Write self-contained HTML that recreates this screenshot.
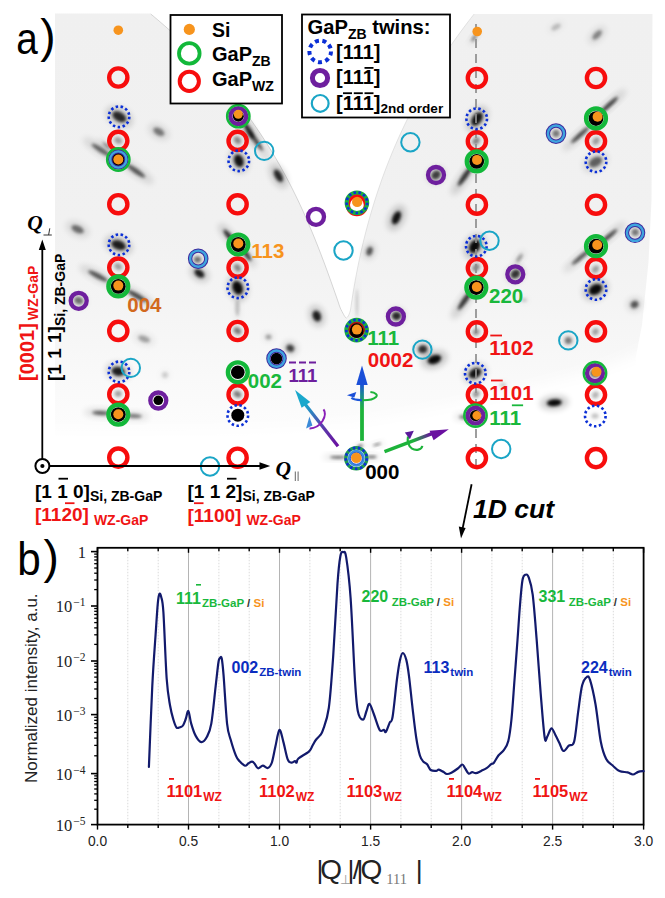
<!DOCTYPE html><html><head><meta charset="utf-8"><title>fig</title><style>html,body{margin:0;padding:0;background:#fff;}body{width:665px;height:898px;position:relative;overflow:hidden;font-family:"Liberation Sans", sans-serif;}</style></head><body><svg width="665" height="898" viewBox="0 0 665 898" style="position:absolute;left:0;top:0">
<defs><filter id="bl" x="-50%" y="-50%" width="200%" height="200%"><feGaussianBlur stdDeviation="1.5"/></filter><filter id="bl0" x="-50%" y="-50%" width="200%" height="200%"><feGaussianBlur stdDeviation="0.7"/></filter><filter id="bl2" x="-50%" y="-50%" width="200%" height="200%"><feGaussianBlur stdDeviation="3"/></filter><filter id="edge" x="-5%" y="-5%" width="110%" height="110%"><feGaussianBlur stdDeviation="0.6"/></filter><filter id="soft" filterUnits="userSpaceOnUse" x="-50" y="-50" width="800" height="600"><feGaussianBlur stdDeviation="7"/></filter><linearGradient id="gv" x1="0" y1="0" x2="0" y2="1"><stop offset="0" stop-color="#22b33a"/><stop offset="1" stop-color="#1a4fd6"/></linearGradient><linearGradient id="gv2" gradientUnits="userSpaceOnUse" x1="0" y1="441" x2="0" y2="380"><stop offset="0" stop-color="#16b03c"/><stop offset="0.55" stop-color="#16a050"/><stop offset="1" stop-color="#1450d8"/></linearGradient><linearGradient id="gl" gradientUnits="userSpaceOnUse" x1="338" y1="446" x2="296" y2="391"><stop offset="0" stop-color="#6a1fa0"/><stop offset="0.5" stop-color="#6a2aa8"/><stop offset="1" stop-color="#22a8cc"/></linearGradient><linearGradient id="gr" gradientUnits="userSpaceOnUse" x1="384" y1="451" x2="448" y2="430"><stop offset="0" stop-color="#16b03c"/><stop offset="0.45" stop-color="#16b03c"/><stop offset="1" stop-color="#6a1fa0"/></linearGradient></defs>
<linearGradient id="mapg" gradientUnits="userSpaceOnUse" x1="0" y1="14" x2="0" y2="440"><stop offset="0" stop-color="#f0f0f0"/><stop offset="0.5" stop-color="#f1f1f1"/><stop offset="0.68" stop-color="#f4f4f4"/><stop offset="0.82" stop-color="#f8f8f8"/><stop offset="1" stop-color="#fdfdfd"/></linearGradient>
<mask id="mbot" maskUnits="userSpaceOnUse" x="0" y="0" width="665" height="520"><g filter="url(#soft)"><path d="M0,-20 L700,-20 L700,345 L640,352 C610,368 570,378 520,390 C470,402 420,412 360,422 C250,432 150,432 0,430 Z" fill="#fff"/></g></mask>
<g mask="url(#mbot)"><g filter="url(#edge)"><path d="M55,13.5 L150.5,13.5 L150.74,14 C151.94,15.00 155.56,18.00 157.91,20 C160.26,22.00 162.58,24.00 164.87,26 C167.16,28.00 169.41,30.00 171.64,32 C173.86,34.00 176.06,36.00 178.22,38 C180.38,40.00 182.51,42.00 184.61,44 C186.71,46.00 188.78,48.00 190.82,50 C192.86,52.00 194.86,54.00 196.84,56 C198.82,58.00 200.77,60.00 202.69,62 C204.61,64.00 206.50,66.00 208.37,68 C210.24,70.00 212.07,72.00 213.88,74 C215.69,76.00 217.47,78.00 219.22,80 C220.97,82.00 222.71,84.00 224.41,86 C226.11,88.00 227.79,90.00 229.44,92 C231.09,94.00 232.71,96.00 234.31,98 C235.91,100.00 237.49,102.00 239.04,104 C240.59,106.00 242.12,108.00 243.63,110 C245.13,112.00 246.61,114.00 248.07,116 C249.53,118.00 250.97,120.00 252.38,122 C253.79,124.00 255.19,126.00 256.56,128 C257.93,130.00 259.27,132.00 260.6,134 C261.93,136.00 263.24,138.00 264.53,140 C265.82,142.00 267.08,144.00 268.33,146 C269.58,148.00 270.81,150.00 272.02,152 C273.23,154.00 274.43,156.00 275.6,158 C276.77,160.00 277.92,162.00 279.06,164 C280.20,166.00 281.32,168.00 282.43,170 C283.54,172.00 284.62,174.00 285.69,176 C286.76,178.00 287.82,180.00 288.86,182 C289.90,184.00 290.93,186.00 291.94,188 C292.95,190.00 293.94,192.00 294.92,194 C295.90,196.00 296.88,198.00 297.83,200 C298.78,202.00 299.72,204.00 300.65,206 C301.58,208.00 302.50,210.00 303.4,212 C304.30,214.00 305.19,216.00 306.07,218 C306.95,220.00 307.82,222.00 308.68,224 C309.54,226.00 310.38,228.00 311.22,230 C312.06,232.00 312.89,234.00 313.71,236 C314.53,238.00 315.33,240.00 316.13,242 C316.93,244.00 317.73,246.00 318.51,248 C319.29,250.00 320.07,252.00 320.84,254 C321.61,256.00 322.37,258.00 323.12,260 C323.87,262.00 324.62,264.00 325.36,266 C326.10,268.00 326.84,270.00 327.57,272 C328.30,274.00 329.02,276.00 329.74,278 C330.46,280.00 331.18,282.00 331.89,284 C332.60,286.00 333.31,288.00 334.01,290 C334.71,292.00 335.41,294.00 336.11,296 C336.81,298.00 337.51,300.00 338.2,302 C338.89,304.00 339.37,305.92 340.27,308 C341.17,310.08 342.78,313.00 343.6,314.5 C344.42,316.00 344.77,316.38 345.2,317 C345.63,317.62 346.03,318.00 346.2,318.2 C346.43,318.00 347.13,317.62 347.6,317 C348.07,316.38 348.52,315.67 349,314.5 C349.48,313.33 350.09,311.75 350.48,310 C350.87,308.25 351.05,306.00 351.35,304 C351.65,302.00 351.95,300.00 352.27,298 C352.58,296.00 352.91,294.00 353.24,292 C353.57,290.00 353.91,288.00 354.26,286 C354.61,284.00 354.97,282.00 355.33,280 C355.69,278.00 356.06,276.00 356.44,274 C356.82,272.00 357.21,270.00 357.61,268 C358.01,266.00 358.42,264.00 358.84,262 C359.26,260.00 359.69,258.00 360.12,256 C360.56,254.00 361.00,252.00 361.45,250 C361.90,248.00 362.36,246.00 362.84,244 C363.31,242.00 363.81,240.00 364.3,238 C364.80,236.00 365.30,234.00 365.81,232 C366.32,230.00 366.85,228.00 367.38,226 C367.91,224.00 368.46,222.00 369.02,220 C369.58,218.00 370.15,216.00 370.73,214 C371.31,212.00 371.90,210.00 372.5,208 C373.10,206.00 373.72,204.00 374.34,202 C374.96,200.00 375.59,198.00 376.24,196 C376.89,194.00 377.55,192.00 378.22,190 C378.89,188.00 379.57,186.00 380.27,184 C380.96,182.00 381.67,180.00 382.39,178 C383.11,176.00 383.84,174.00 384.59,172 C385.34,170.00 386.10,168.00 386.87,166 C387.64,164.00 388.42,162.00 389.22,160 C390.02,158.00 390.83,156.00 391.65,154 C392.47,152.00 393.31,150.00 394.16,148 C395.01,146.00 395.87,144.00 396.75,142 C397.63,140.00 398.52,138.00 399.43,136 C400.34,134.00 401.26,132.00 402.19,130 C403.12,128.00 404.07,126.00 405.03,124 C405.99,122.00 406.98,120.00 407.97,118 C408.96,116.00 409.97,114.00 410.99,112 C412.01,110.00 413.05,108.00 414.1,106 C415.15,104.00 416.23,102.00 417.31,100 C418.39,98.00 419.50,96.00 420.61,94 C421.73,92.00 422.86,90.00 424.0,88 C425.14,86.00 426.30,84.00 427.48,82 C428.66,80.00 429.86,78.00 431.07,76 C432.28,74.00 433.50,72.00 434.75,70 C436.00,68.00 437.26,66.00 438.54,64 C439.82,62.00 441.11,60.00 442.42,58 C443.73,56.00 445.06,54.00 446.41,52 C447.76,50.00 449.12,48.00 450.5,46 C451.88,44.00 453.28,42.00 454.7,40 C456.12,38.00 457.55,36.00 459.0,34 C460.45,32.00 461.92,30.00 463.41,28 C464.90,26.00 466.41,24.00 467.94,22 C469.47,20.00 471.54,17.33 472.57,16 C473.60,14.67 473.85,14.33 474.1,14 L652.5,14 L651.5,200 L648.5,262 L642,325 L636,356 L630,470 L55,470 Z" fill="url(#mapg)"/></g></g>
<path d="M150.74,14 C151.94,15.00 155.56,18.00 157.91,20 C160.26,22.00 162.58,24.00 164.87,26 C167.16,28.00 169.41,30.00 171.64,32 C173.86,34.00 176.06,36.00 178.22,38 C180.38,40.00 182.51,42.00 184.61,44 C186.71,46.00 188.78,48.00 190.82,50 C192.86,52.00 194.86,54.00 196.84,56 C198.82,58.00 200.77,60.00 202.69,62 C204.61,64.00 206.50,66.00 208.37,68 C210.24,70.00 212.07,72.00 213.88,74 C215.69,76.00 217.47,78.00 219.22,80 C220.97,82.00 222.71,84.00 224.41,86 C226.11,88.00 227.79,90.00 229.44,92 C231.09,94.00 232.71,96.00 234.31,98 C235.91,100.00 237.49,102.00 239.04,104 C240.59,106.00 242.12,108.00 243.63,110 C245.13,112.00 246.61,114.00 248.07,116 C249.53,118.00 250.97,120.00 252.38,122 C253.79,124.00 255.19,126.00 256.56,128 C257.93,130.00 259.27,132.00 260.6,134 C261.93,136.00 263.24,138.00 264.53,140 C265.82,142.00 267.08,144.00 268.33,146 C269.58,148.00 270.81,150.00 272.02,152 C273.23,154.00 274.43,156.00 275.6,158 C276.77,160.00 277.92,162.00 279.06,164 C280.20,166.00 281.32,168.00 282.43,170 C283.54,172.00 284.62,174.00 285.69,176 C286.76,178.00 287.82,180.00 288.86,182 C289.90,184.00 290.93,186.00 291.94,188 C292.95,190.00 293.94,192.00 294.92,194 C295.90,196.00 296.88,198.00 297.83,200 C298.78,202.00 299.72,204.00 300.65,206 C301.58,208.00 302.50,210.00 303.4,212 C304.30,214.00 305.19,216.00 306.07,218 C306.95,220.00 307.82,222.00 308.68,224 C309.54,226.00 310.38,228.00 311.22,230 C312.06,232.00 312.89,234.00 313.71,236 C314.53,238.00 315.33,240.00 316.13,242 C316.93,244.00 317.73,246.00 318.51,248 C319.29,250.00 320.07,252.00 320.84,254 C321.61,256.00 322.37,258.00 323.12,260 C323.87,262.00 324.62,264.00 325.36,266 C326.10,268.00 326.84,270.00 327.57,272 C328.30,274.00 329.02,276.00 329.74,278 C330.46,280.00 331.18,282.00 331.89,284 C332.60,286.00 333.31,288.00 334.01,290 C334.71,292.00 335.41,294.00 336.11,296 C336.81,298.00 337.51,300.00 338.2,302 C338.89,304.00 339.37,305.92 340.27,308 C341.17,310.08 342.78,313.00 343.6,314.5 C344.42,316.00 344.77,316.38 345.2,317 C345.63,317.62 346.03,318.00 346.2,318.2" fill="none" stroke="#c6c6c6" stroke-width="0.7"/><path d="M346.2,318.2 C346.43,318.00 347.13,317.62 347.6,317 C348.07,316.38 348.52,315.67 349,314.5 C349.48,313.33 350.09,311.75 350.48,310 C350.87,308.25 351.05,306.00 351.35,304 C351.65,302.00 351.95,300.00 352.27,298 C352.58,296.00 352.91,294.00 353.24,292 C353.57,290.00 353.91,288.00 354.26,286 C354.61,284.00 354.97,282.00 355.33,280 C355.69,278.00 356.06,276.00 356.44,274 C356.82,272.00 357.21,270.00 357.61,268 C358.01,266.00 358.42,264.00 358.84,262 C359.26,260.00 359.69,258.00 360.12,256 C360.56,254.00 361.00,252.00 361.45,250 C361.90,248.00 362.36,246.00 362.84,244 C363.31,242.00 363.81,240.00 364.3,238 C364.80,236.00 365.30,234.00 365.81,232 C366.32,230.00 366.85,228.00 367.38,226 C367.91,224.00 368.46,222.00 369.02,220 C369.58,218.00 370.15,216.00 370.73,214 C371.31,212.00 371.90,210.00 372.5,208 C373.10,206.00 373.72,204.00 374.34,202 C374.96,200.00 375.59,198.00 376.24,196 C376.89,194.00 377.55,192.00 378.22,190 C378.89,188.00 379.57,186.00 380.27,184 C380.96,182.00 381.67,180.00 382.39,178 C383.11,176.00 383.84,174.00 384.59,172 C385.34,170.00 386.10,168.00 386.87,166 C387.64,164.00 388.42,162.00 389.22,160 C390.02,158.00 390.83,156.00 391.65,154 C392.47,152.00 393.31,150.00 394.16,148 C395.01,146.00 395.87,144.00 396.75,142 C397.63,140.00 398.52,138.00 399.43,136 C400.34,134.00 401.26,132.00 402.19,130 C403.12,128.00 404.07,126.00 405.03,124 C405.99,122.00 406.98,120.00 407.97,118 C408.96,116.00 409.97,114.00 410.99,112 C412.01,110.00 413.05,108.00 414.1,106 C415.15,104.00 416.23,102.00 417.31,100 C418.39,98.00 419.50,96.00 420.61,94 C421.73,92.00 422.86,90.00 424.0,88 C425.14,86.00 426.30,84.00 427.48,82 C428.66,80.00 429.86,78.00 431.07,76 C432.28,74.00 433.50,72.00 434.75,70 C436.00,68.00 437.26,66.00 438.54,64 C439.82,62.00 441.11,60.00 442.42,58 C443.73,56.00 445.06,54.00 446.41,52 C447.76,50.00 449.12,48.00 450.5,46 C451.88,44.00 453.28,42.00 454.7,40 C456.12,38.00 457.55,36.00 459.0,34 C460.45,32.00 461.92,30.00 463.41,28 C464.90,26.00 466.41,24.00 467.94,22 C469.47,20.00 471.54,17.33 472.57,16 C473.60,14.67 473.85,14.33 474.1,14" fill="none" stroke="#d2d2d2" stroke-width="0.6"/>
<ellipse cx="119.3" cy="116.8" rx="14.2" ry="9.0" transform="rotate(30 119.3 116.8)" fill="#000" opacity="0.18" filter="url(#bl2)"/>
<ellipse cx="119.3" cy="116.8" rx="7.5" ry="4.5" transform="rotate(30 119.3 116.8)" fill="#000" opacity="0.8" filter="url(#bl)"/>
<ellipse cx="118.2" cy="140.5" rx="7.6" ry="6.0" transform="rotate(30 118.2 140.5)" fill="#000" opacity="0.07" filter="url(#bl2)"/>
<ellipse cx="118.2" cy="140.5" rx="4" ry="3" transform="rotate(30 118.2 140.5)" fill="#000" opacity="0.3" filter="url(#bl)"/>
<ellipse cx="158.8" cy="131.8" rx="11.4" ry="7.0" transform="rotate(30 158.8 131.8)" fill="#000" opacity="0.10" filter="url(#bl2)"/>
<ellipse cx="158.8" cy="131.8" rx="6" ry="3.5" transform="rotate(30 158.8 131.8)" fill="#000" opacity="0.45" filter="url(#bl)"/>
<ellipse cx="101" cy="150" rx="20.9" ry="5.0" transform="rotate(33 101 150)" fill="#000" opacity="0.12" filter="url(#bl2)"/>
<ellipse cx="101" cy="150" rx="11" ry="2.5" transform="rotate(33 101 150)" fill="#000" opacity="0.55" filter="url(#bl)"/>
<ellipse cx="136" cy="171" rx="20.9" ry="5.0" transform="rotate(35 136 171)" fill="#000" opacity="0.13" filter="url(#bl2)"/>
<ellipse cx="136" cy="171" rx="11" ry="2.5" transform="rotate(35 136 171)" fill="#000" opacity="0.6" filter="url(#bl)"/>
<ellipse cx="107" cy="146" rx="11.4" ry="2.4" transform="rotate(40 107 146)" fill="#000" opacity="0.11" filter="url(#bl2)"/>
<ellipse cx="107" cy="146" rx="6" ry="1.2" transform="rotate(40 107 146)" fill="#000" opacity="0.5" filter="url(#bl)"/>
<ellipse cx="77.6" cy="229.3" rx="12.3" ry="7.0" transform="rotate(25 77.6 229.3)" fill="#000" opacity="0.11" filter="url(#bl2)"/>
<ellipse cx="77.6" cy="229.3" rx="6.5" ry="3.5" transform="rotate(25 77.6 229.3)" fill="#000" opacity="0.5" filter="url(#bl)"/>
<ellipse cx="118.6" cy="245.1" rx="14.2" ry="9.0" transform="rotate(20 118.6 245.1)" fill="#000" opacity="0.19" filter="url(#bl2)"/>
<ellipse cx="118.6" cy="245.1" rx="7.5" ry="4.5" transform="rotate(20 118.6 245.1)" fill="#000" opacity="0.85" filter="url(#bl)"/>
<ellipse cx="118.2" cy="266.5" rx="7.6" ry="6.0" transform="rotate(30 118.2 266.5)" fill="#000" opacity="0.07" filter="url(#bl2)"/>
<ellipse cx="118.2" cy="266.5" rx="4" ry="3" transform="rotate(30 118.2 266.5)" fill="#000" opacity="0.3" filter="url(#bl)"/>
<ellipse cx="98" cy="276" rx="20.9" ry="5.0" transform="rotate(28 98 276)" fill="#000" opacity="0.13" filter="url(#bl2)"/>
<ellipse cx="98" cy="276" rx="11" ry="2.5" transform="rotate(28 98 276)" fill="#000" opacity="0.6" filter="url(#bl)"/>
<ellipse cx="137" cy="296" rx="20.9" ry="5.0" transform="rotate(30 137 296)" fill="#000" opacity="0.14" filter="url(#bl2)"/>
<ellipse cx="137" cy="296" rx="11" ry="2.5" transform="rotate(30 137 296)" fill="#000" opacity="0.65" filter="url(#bl)"/>
<ellipse cx="78.7" cy="300.6" rx="8.5" ry="7.0" transform="rotate(20 78.7 300.6)" fill="#000" opacity="0.11" filter="url(#bl2)"/>
<ellipse cx="78.7" cy="300.6" rx="4.5" ry="3.5" transform="rotate(20 78.7 300.6)" fill="#000" opacity="0.5" filter="url(#bl)"/>
<ellipse cx="199.4" cy="273.5" rx="10.4" ry="7.0" transform="rotate(35 199.4 273.5)" fill="#000" opacity="0.19" filter="url(#bl2)"/>
<ellipse cx="199.4" cy="273.5" rx="5.5" ry="3.5" transform="rotate(35 199.4 273.5)" fill="#000" opacity="0.85" filter="url(#bl)"/>
<ellipse cx="197.5" cy="259.5" rx="6.6" ry="6.0" transform="rotate(0 197.5 259.5)" fill="#000" opacity="0.11" filter="url(#bl2)"/>
<ellipse cx="197.5" cy="259.5" rx="3.5" ry="3" transform="rotate(0 197.5 259.5)" fill="#000" opacity="0.5" filter="url(#bl)"/>
<ellipse cx="144.1" cy="338.9" rx="11.4" ry="6.0" transform="rotate(20 144.1 338.9)" fill="#000" opacity="0.07" filter="url(#bl2)"/>
<ellipse cx="144.1" cy="338.9" rx="6" ry="3" transform="rotate(20 144.1 338.9)" fill="#000" opacity="0.3" filter="url(#bl)"/>
<ellipse cx="118.2" cy="371.4" rx="12.3" ry="9.0" transform="rotate(10 118.2 371.4)" fill="#000" opacity="0.19" filter="url(#bl2)"/>
<ellipse cx="118.2" cy="371.4" rx="6.5" ry="4.5" transform="rotate(10 118.2 371.4)" fill="#000" opacity="0.85" filter="url(#bl)"/>
<ellipse cx="118.2" cy="393.8" rx="6.6" ry="6.0" transform="rotate(0 118.2 393.8)" fill="#000" opacity="0.07" filter="url(#bl2)"/>
<ellipse cx="118.2" cy="393.8" rx="3.5" ry="3" transform="rotate(0 118.2 393.8)" fill="#000" opacity="0.3" filter="url(#bl)"/>
<ellipse cx="101" cy="413" rx="17.1" ry="4.4" transform="rotate(3 101 413)" fill="#000" opacity="0.12" filter="url(#bl2)"/>
<ellipse cx="101" cy="413" rx="9" ry="2.2" transform="rotate(3 101 413)" fill="#000" opacity="0.55" filter="url(#bl)"/>
<ellipse cx="134" cy="416" rx="15.2" ry="4.4" transform="rotate(3 134 416)" fill="#000" opacity="0.10" filter="url(#bl2)"/>
<ellipse cx="134" cy="416" rx="8" ry="2.2" transform="rotate(3 134 416)" fill="#000" opacity="0.45" filter="url(#bl)"/>
<ellipse cx="165" cy="375" rx="5.7" ry="6.0" transform="rotate(0 165 375)" fill="#000" opacity="0.03" filter="url(#bl2)"/>
<ellipse cx="165" cy="375" rx="3" ry="3" transform="rotate(0 165 375)" fill="#000" opacity="0.15" filter="url(#bl)"/>
<ellipse cx="249" cy="131" rx="17.1" ry="4.8" transform="rotate(60 249 131)" fill="#000" opacity="0.18" filter="url(#bl2)"/>
<ellipse cx="249" cy="131" rx="9" ry="2.4" transform="rotate(60 249 131)" fill="#000" opacity="0.8" filter="url(#bl)"/>
<ellipse cx="237.5" cy="140.2" rx="7.6" ry="6.0" transform="rotate(50 237.5 140.2)" fill="#000" opacity="0.09" filter="url(#bl2)"/>
<ellipse cx="237.5" cy="140.2" rx="4" ry="3" transform="rotate(50 237.5 140.2)" fill="#000" opacity="0.4" filter="url(#bl)"/>
<ellipse cx="238.8" cy="160.8" rx="12.3" ry="9.0" transform="rotate(70 238.8 160.8)" fill="#000" opacity="0.20" filter="url(#bl2)"/>
<ellipse cx="238.8" cy="160.8" rx="6.5" ry="4.5" transform="rotate(70 238.8 160.8)" fill="#000" opacity="0.9" filter="url(#bl)"/>
<ellipse cx="278.4" cy="175.8" rx="13.3" ry="7.0" transform="rotate(60 278.4 175.8)" fill="#000" opacity="0.18" filter="url(#bl2)"/>
<ellipse cx="278.4" cy="175.8" rx="7" ry="3.5" transform="rotate(60 278.4 175.8)" fill="#000" opacity="0.8" filter="url(#bl)"/>
<ellipse cx="256" cy="141" rx="22.8" ry="3.6" transform="rotate(55 256 141)" fill="#000" opacity="0.15" filter="url(#bl2)"/>
<ellipse cx="256" cy="141" rx="12" ry="1.8" transform="rotate(55 256 141)" fill="#000" opacity="0.7" filter="url(#bl)"/>
<ellipse cx="229" cy="236" rx="15.2" ry="4.8" transform="rotate(50 229 236)" fill="#000" opacity="0.17" filter="url(#bl2)"/>
<ellipse cx="229" cy="236" rx="8" ry="2.4" transform="rotate(50 229 236)" fill="#000" opacity="0.75" filter="url(#bl)"/>
<ellipse cx="246.5" cy="254.5" rx="15.2" ry="4.4" transform="rotate(55 246.5 254.5)" fill="#000" opacity="0.15" filter="url(#bl2)"/>
<ellipse cx="246.5" cy="254.5" rx="8" ry="2.2" transform="rotate(55 246.5 254.5)" fill="#000" opacity="0.7" filter="url(#bl)"/>
<ellipse cx="237.5" cy="267.7" rx="7.6" ry="6.0" transform="rotate(50 237.5 267.7)" fill="#000" opacity="0.09" filter="url(#bl2)"/>
<ellipse cx="237.5" cy="267.7" rx="4" ry="3" transform="rotate(50 237.5 267.7)" fill="#000" opacity="0.4" filter="url(#bl)"/>
<ellipse cx="237.5" cy="287.8" rx="13.3" ry="10.0" transform="rotate(70 237.5 287.8)" fill="#000" opacity="0.21" filter="url(#bl2)"/>
<ellipse cx="237.5" cy="287.8" rx="7" ry="5" transform="rotate(70 237.5 287.8)" fill="#000" opacity="0.95" filter="url(#bl)"/>
<ellipse cx="237.4" cy="308" rx="3.8" ry="16.0" transform="rotate(0 237.4 308)" fill="#000" opacity="0.04" filter="url(#bl2)"/>
<ellipse cx="237.4" cy="308" rx="2" ry="8" transform="rotate(0 237.4 308)" fill="#000" opacity="0.2" filter="url(#bl)"/>
<ellipse cx="237.4" cy="330.8" rx="7.6" ry="6.0" transform="rotate(40 237.4 330.8)" fill="#000" opacity="0.10" filter="url(#bl2)"/>
<ellipse cx="237.4" cy="330.8" rx="4" ry="3" transform="rotate(40 237.4 330.8)" fill="#000" opacity="0.45" filter="url(#bl)"/>
<ellipse cx="237.4" cy="394.3" rx="7.6" ry="6.0" transform="rotate(30 237.4 394.3)" fill="#000" opacity="0.10" filter="url(#bl2)"/>
<ellipse cx="237.4" cy="394.3" rx="4" ry="3" transform="rotate(30 237.4 394.3)" fill="#000" opacity="0.45" filter="url(#bl)"/>
<ellipse cx="290.3" cy="348.2" rx="7.6" ry="7.0" transform="rotate(30 290.3 348.2)" fill="#000" opacity="0.15" filter="url(#bl2)"/>
<ellipse cx="290.3" cy="348.2" rx="4" ry="3.5" transform="rotate(30 290.3 348.2)" fill="#000" opacity="0.7" filter="url(#bl)"/>
<ellipse cx="316.8" cy="316" rx="7.6" ry="11.0" transform="rotate(-20 316.8 316)" fill="#000" opacity="0.19" filter="url(#bl2)"/>
<ellipse cx="316.8" cy="316" rx="4" ry="5.5" transform="rotate(-20 316.8 316)" fill="#000" opacity="0.85" filter="url(#bl)"/>
<ellipse cx="268.5" cy="337" rx="5.7" ry="5.0" transform="rotate(0 268.5 337)" fill="#000" opacity="0.07" filter="url(#bl2)"/>
<ellipse cx="268.5" cy="337" rx="3" ry="2.5" transform="rotate(0 268.5 337)" fill="#000" opacity="0.3" filter="url(#bl)"/>
<ellipse cx="396.5" cy="217.8" rx="13.3" ry="7.6" transform="rotate(-65 396.5 217.8)" fill="#000" opacity="0.20" filter="url(#bl2)"/>
<ellipse cx="396.5" cy="217.8" rx="7" ry="3.8" transform="rotate(-65 396.5 217.8)" fill="#000" opacity="0.9" filter="url(#bl)"/>
<ellipse cx="369.5" cy="251.2" rx="8.5" ry="6.0" transform="rotate(-70 369.5 251.2)" fill="#000" opacity="0.13" filter="url(#bl2)"/>
<ellipse cx="369.5" cy="251.2" rx="4.5" ry="3" transform="rotate(-70 369.5 251.2)" fill="#000" opacity="0.6" filter="url(#bl)"/>
<ellipse cx="396.5" cy="315.9" rx="8.5" ry="8.0" transform="rotate(0 396.5 315.9)" fill="#000" opacity="0.18" filter="url(#bl2)"/>
<ellipse cx="396.5" cy="315.9" rx="4.5" ry="4" transform="rotate(0 396.5 315.9)" fill="#000" opacity="0.8" filter="url(#bl)"/>
<ellipse cx="422.4" cy="349.6" rx="7.6" ry="7.0" transform="rotate(0 422.4 349.6)" fill="#000" opacity="0.12" filter="url(#bl2)"/>
<ellipse cx="422.4" cy="349.6" rx="4" ry="3.5" transform="rotate(0 422.4 349.6)" fill="#000" opacity="0.55" filter="url(#bl)"/>
<ellipse cx="434.4" cy="359.5" rx="13.3" ry="8.4" transform="rotate(-20 434.4 359.5)" fill="#000" opacity="0.21" filter="url(#bl2)"/>
<ellipse cx="434.4" cy="359.5" rx="7" ry="4.2" transform="rotate(-20 434.4 359.5)" fill="#000" opacity="0.95" filter="url(#bl)"/>
<ellipse cx="338" cy="457.3" rx="15.2" ry="2.8" transform="rotate(0 338 457.3)" fill="#000" opacity="0.12" filter="url(#bl2)"/>
<ellipse cx="338" cy="457.3" rx="8" ry="1.4" transform="rotate(0 338 457.3)" fill="#000" opacity="0.55" filter="url(#bl)"/>
<ellipse cx="371.5" cy="457" rx="9.5" ry="2.8" transform="rotate(0 371.5 457)" fill="#000" opacity="0.11" filter="url(#bl2)"/>
<ellipse cx="371.5" cy="457" rx="5" ry="1.4" transform="rotate(0 371.5 457)" fill="#000" opacity="0.5" filter="url(#bl)"/>
<ellipse cx="360" cy="446" rx="5.7" ry="3.0" transform="rotate(-20 360 446)" fill="#000" opacity="0.11" filter="url(#bl2)"/>
<ellipse cx="360" cy="446" rx="3" ry="1.5" transform="rotate(-20 360 446)" fill="#000" opacity="0.5" filter="url(#bl)"/>
<ellipse cx="377" cy="444.5" rx="7.6" ry="2.4" transform="rotate(-15 377 444.5)" fill="#000" opacity="0.09" filter="url(#bl2)"/>
<ellipse cx="377" cy="444.5" rx="4" ry="1.2" transform="rotate(-15 377 444.5)" fill="#000" opacity="0.4" filter="url(#bl)"/>
<ellipse cx="357" cy="303" rx="2.1" ry="28.0" transform="rotate(0 357 303)" fill="#000" opacity="0.04" filter="url(#bl2)"/>
<ellipse cx="357" cy="303" rx="1.1" ry="14" transform="rotate(0 357 303)" fill="#000" opacity="0.18" filter="url(#bl)"/>
<ellipse cx="474" cy="38" rx="7.6" ry="3.0" transform="rotate(-55 474 38)" fill="#000" opacity="0.10" filter="url(#bl2)"/>
<ellipse cx="474" cy="38" rx="4" ry="1.5" transform="rotate(-55 474 38)" fill="#000" opacity="0.45" filter="url(#bl)"/>
<ellipse cx="477" cy="119" rx="14.2" ry="9.0" transform="rotate(-55 477 119)" fill="#000" opacity="0.20" filter="url(#bl2)"/>
<ellipse cx="477" cy="119" rx="7.5" ry="4.5" transform="rotate(-55 477 119)" fill="#000" opacity="0.9" filter="url(#bl)"/>
<ellipse cx="476.1" cy="141" rx="7.6" ry="6.0" transform="rotate(-50 476.1 141)" fill="#000" opacity="0.09" filter="url(#bl2)"/>
<ellipse cx="476.1" cy="141" rx="4" ry="3" transform="rotate(-50 476.1 141)" fill="#000" opacity="0.4" filter="url(#bl)"/>
<ellipse cx="465" cy="176" rx="22.8" ry="4.8" transform="rotate(-55 465 176)" fill="#000" opacity="0.17" filter="url(#bl2)"/>
<ellipse cx="465" cy="176" rx="12" ry="2.4" transform="rotate(-55 465 176)" fill="#000" opacity="0.75" filter="url(#bl)"/>
<ellipse cx="474.7" cy="246.5" rx="13.3" ry="10.0" transform="rotate(-60 474.7 246.5)" fill="#000" opacity="0.21" filter="url(#bl2)"/>
<ellipse cx="474.7" cy="246.5" rx="7" ry="5" transform="rotate(-60 474.7 246.5)" fill="#000" opacity="0.95" filter="url(#bl)"/>
<ellipse cx="476.1" cy="267.6" rx="7.6" ry="6.0" transform="rotate(-50 476.1 267.6)" fill="#000" opacity="0.09" filter="url(#bl2)"/>
<ellipse cx="476.1" cy="267.6" rx="4" ry="3" transform="rotate(-50 476.1 267.6)" fill="#000" opacity="0.4" filter="url(#bl)"/>
<ellipse cx="465" cy="300" rx="22.8" ry="4.8" transform="rotate(-55 465 300)" fill="#000" opacity="0.17" filter="url(#bl2)"/>
<ellipse cx="465" cy="300" rx="12" ry="2.4" transform="rotate(-55 465 300)" fill="#000" opacity="0.75" filter="url(#bl)"/>
<ellipse cx="515.4" cy="274" rx="9.5" ry="8.0" transform="rotate(-40 515.4 274)" fill="#000" opacity="0.17" filter="url(#bl2)"/>
<ellipse cx="515.4" cy="274" rx="5" ry="4" transform="rotate(-40 515.4 274)" fill="#000" opacity="0.75" filter="url(#bl)"/>
<ellipse cx="519.4" cy="258" rx="9.5" ry="3.6" transform="rotate(-55 519.4 258)" fill="#000" opacity="0.08" filter="url(#bl2)"/>
<ellipse cx="519.4" cy="258" rx="5" ry="1.8" transform="rotate(-55 519.4 258)" fill="#000" opacity="0.35" filter="url(#bl)"/>
<ellipse cx="476.1" cy="332" rx="6.6" ry="6.0" transform="rotate(-50 476.1 332)" fill="#000" opacity="0.08" filter="url(#bl2)"/>
<ellipse cx="476.1" cy="332" rx="3.5" ry="3" transform="rotate(-50 476.1 332)" fill="#000" opacity="0.35" filter="url(#bl)"/>
<ellipse cx="475.1" cy="373.2" rx="12.3" ry="9.0" transform="rotate(-30 475.1 373.2)" fill="#000" opacity="0.20" filter="url(#bl2)"/>
<ellipse cx="475.1" cy="373.2" rx="6.5" ry="4.5" transform="rotate(-30 475.1 373.2)" fill="#000" opacity="0.9" filter="url(#bl)"/>
<ellipse cx="476.1" cy="393.9" rx="6.6" ry="6.0" transform="rotate(-50 476.1 393.9)" fill="#000" opacity="0.08" filter="url(#bl2)"/>
<ellipse cx="476.1" cy="393.9" rx="3.5" ry="3" transform="rotate(-50 476.1 393.9)" fill="#000" opacity="0.35" filter="url(#bl)"/>
<ellipse cx="475.3" cy="415.6" rx="9.5" ry="8.0" transform="rotate(0 475.3 415.6)" fill="#000" opacity="0.13" filter="url(#bl2)"/>
<ellipse cx="475.3" cy="415.6" rx="5" ry="4" transform="rotate(0 475.3 415.6)" fill="#000" opacity="0.6" filter="url(#bl)"/>
<ellipse cx="465" cy="417" rx="11.4" ry="4.0" transform="rotate(0 465 417)" fill="#000" opacity="0.10" filter="url(#bl2)"/>
<ellipse cx="465" cy="417" rx="6" ry="2" transform="rotate(0 465 417)" fill="#000" opacity="0.45" filter="url(#bl)"/>
<ellipse cx="554.3" cy="402.8" rx="14.2" ry="7.0" transform="rotate(-5 554.3 402.8)" fill="#000" opacity="0.21" filter="url(#bl2)"/>
<ellipse cx="554.3" cy="402.8" rx="7.5" ry="3.5" transform="rotate(-5 554.3 402.8)" fill="#000" opacity="0.95" filter="url(#bl)"/>
<ellipse cx="436" cy="175" rx="9.5" ry="8.0" transform="rotate(-40 436 175)" fill="#000" opacity="0.15" filter="url(#bl2)"/>
<ellipse cx="436" cy="175" rx="5" ry="4" transform="rotate(-40 436 175)" fill="#000" opacity="0.7" filter="url(#bl)"/>
<ellipse cx="423.3" cy="348.8" rx="7.6" ry="7.0" transform="rotate(0 423.3 348.8)" fill="#000" opacity="0.11" filter="url(#bl2)"/>
<ellipse cx="423.3" cy="348.8" rx="4" ry="3.5" transform="rotate(0 423.3 348.8)" fill="#000" opacity="0.5" filter="url(#bl)"/>
<ellipse cx="609" cy="105" rx="22.8" ry="4.0" transform="rotate(-42 609 105)" fill="#000" opacity="0.15" filter="url(#bl2)"/>
<ellipse cx="609" cy="105" rx="12" ry="2" transform="rotate(-42 609 105)" fill="#000" opacity="0.7" filter="url(#bl)"/>
<ellipse cx="580" cy="135" rx="22.8" ry="4.0" transform="rotate(-42 580 135)" fill="#000" opacity="0.14" filter="url(#bl2)"/>
<ellipse cx="580" cy="135" rx="12" ry="2" transform="rotate(-42 580 135)" fill="#000" opacity="0.65" filter="url(#bl)"/>
<ellipse cx="596.1" cy="141.1" rx="7.6" ry="6.0" transform="rotate(-50 596.1 141.1)" fill="#000" opacity="0.07" filter="url(#bl2)"/>
<ellipse cx="596.1" cy="141.1" rx="4" ry="3" transform="rotate(-50 596.1 141.1)" fill="#000" opacity="0.3" filter="url(#bl)"/>
<ellipse cx="595.5" cy="162" rx="13.3" ry="9.0" transform="rotate(-30 595.5 162)" fill="#000" opacity="0.12" filter="url(#bl2)"/>
<ellipse cx="595.5" cy="162" rx="7" ry="4.5" transform="rotate(-30 595.5 162)" fill="#000" opacity="0.55" filter="url(#bl)"/>
<ellipse cx="597.1" cy="34.9" rx="11.4" ry="6.0" transform="rotate(-45 597.1 34.9)" fill="#000" opacity="0.09" filter="url(#bl2)"/>
<ellipse cx="597.1" cy="34.9" rx="6" ry="3" transform="rotate(-45 597.1 34.9)" fill="#000" opacity="0.4" filter="url(#bl)"/>
<ellipse cx="556" cy="27" rx="9.5" ry="5.0" transform="rotate(-30 556 27)" fill="#000" opacity="0.04" filter="url(#bl2)"/>
<ellipse cx="556" cy="27" rx="5" ry="2.5" transform="rotate(-30 556 27)" fill="#000" opacity="0.2" filter="url(#bl)"/>
<ellipse cx="556" cy="133.6" rx="6.6" ry="7.0" transform="rotate(0 556 133.6)" fill="#000" opacity="0.10" filter="url(#bl2)"/>
<ellipse cx="556" cy="133.6" rx="3.5" ry="3.5" transform="rotate(0 556 133.6)" fill="#000" opacity="0.45" filter="url(#bl)"/>
<ellipse cx="608" cy="237" rx="22.8" ry="4.0" transform="rotate(-40 608 237)" fill="#000" opacity="0.14" filter="url(#bl2)"/>
<ellipse cx="608" cy="237" rx="12" ry="2" transform="rotate(-40 608 237)" fill="#000" opacity="0.65" filter="url(#bl)"/>
<ellipse cx="581" cy="257" rx="22.8" ry="4.0" transform="rotate(-40 581 257)" fill="#000" opacity="0.13" filter="url(#bl2)"/>
<ellipse cx="581" cy="257" rx="12" ry="2" transform="rotate(-40 581 257)" fill="#000" opacity="0.6" filter="url(#bl)"/>
<ellipse cx="595.5" cy="269.3" rx="7.6" ry="6.0" transform="rotate(-50 595.5 269.3)" fill="#000" opacity="0.07" filter="url(#bl2)"/>
<ellipse cx="595.5" cy="269.3" rx="4" ry="3" transform="rotate(-50 595.5 269.3)" fill="#000" opacity="0.3" filter="url(#bl)"/>
<ellipse cx="595.5" cy="289.5" rx="13.3" ry="10.0" transform="rotate(-30 595.5 289.5)" fill="#000" opacity="0.21" filter="url(#bl2)"/>
<ellipse cx="595.5" cy="289.5" rx="7" ry="5" transform="rotate(-30 595.5 289.5)" fill="#000" opacity="0.95" filter="url(#bl)"/>
<ellipse cx="634.5" cy="304.4" rx="7.6" ry="7.0" transform="rotate(-30 634.5 304.4)" fill="#000" opacity="0.13" filter="url(#bl2)"/>
<ellipse cx="634.5" cy="304.4" rx="4" ry="3.5" transform="rotate(-30 634.5 304.4)" fill="#000" opacity="0.6" filter="url(#bl)"/>
<ellipse cx="635.2" cy="232.3" rx="6.6" ry="7.0" transform="rotate(0 635.2 232.3)" fill="#000" opacity="0.10" filter="url(#bl2)"/>
<ellipse cx="635.2" cy="232.3" rx="3.5" ry="3.5" transform="rotate(0 635.2 232.3)" fill="#000" opacity="0.45" filter="url(#bl)"/>
<ellipse cx="595.4" cy="331.7" rx="6.6" ry="6.0" transform="rotate(-50 595.4 331.7)" fill="#000" opacity="0.07" filter="url(#bl2)"/>
<ellipse cx="595.4" cy="331.7" rx="3.5" ry="3" transform="rotate(-50 595.4 331.7)" fill="#000" opacity="0.3" filter="url(#bl)"/>
<ellipse cx="595.2" cy="373.2" rx="9.5" ry="8.0" transform="rotate(0 595.2 373.2)" fill="#000" opacity="0.13" filter="url(#bl2)"/>
<ellipse cx="595.2" cy="373.2" rx="5" ry="4" transform="rotate(0 595.2 373.2)" fill="#000" opacity="0.6" filter="url(#bl)"/>
<ellipse cx="595.4" cy="395" rx="6.6" ry="6.0" transform="rotate(-50 595.4 395)" fill="#000" opacity="0.06" filter="url(#bl2)"/>
<ellipse cx="595.4" cy="395" rx="3.5" ry="3" transform="rotate(-50 595.4 395)" fill="#000" opacity="0.25" filter="url(#bl)"/>
<ellipse cx="595" cy="416" rx="6.6" ry="5.0" transform="rotate(0 595 416)" fill="#000" opacity="0.04" filter="url(#bl2)"/>
<ellipse cx="595" cy="416" rx="3.5" ry="2.5" transform="rotate(0 595 416)" fill="#000" opacity="0.2" filter="url(#bl)"/>
<ellipse cx="568.3" cy="340.4" rx="6.6" ry="7.0" transform="rotate(0 568.3 340.4)" fill="#000" opacity="0.10" filter="url(#bl2)"/>
<ellipse cx="568.3" cy="340.4" rx="3.5" ry="3.5" transform="rotate(0 568.3 340.4)" fill="#000" opacity="0.45" filter="url(#bl)"/>
<ellipse cx="503" cy="385" rx="5.7" ry="5.0" transform="rotate(0 503 385)" fill="#000" opacity="0.03" filter="url(#bl2)"/>
<ellipse cx="503" cy="385" rx="3" ry="2.5" transform="rotate(0 503 385)" fill="#000" opacity="0.15" filter="url(#bl)"/>
<ellipse cx="524" cy="300" rx="5.7" ry="4.0" transform="rotate(0 524 300)" fill="#000" opacity="0.03" filter="url(#bl2)"/>
<ellipse cx="524" cy="300" rx="3" ry="2" transform="rotate(0 524 300)" fill="#000" opacity="0.15" filter="url(#bl)"/>
<line x1="476" y1="24" x2="476" y2="470" stroke="#8e8e8e" stroke-width="1.7" stroke-dasharray="9 6"/>
<circle cx="118.3" cy="77.5" r="9.1" fill="none" stroke="#f70d0d" stroke-width="4.4"/>
<circle cx="118.3" cy="140.8" r="9.1" fill="none" stroke="#f70d0d" stroke-width="4.4"/>
<circle cx="118.3" cy="204.2" r="9.1" fill="none" stroke="#f70d0d" stroke-width="4.4"/>
<circle cx="118.3" cy="267.6" r="9.1" fill="none" stroke="#f70d0d" stroke-width="4.4"/>
<circle cx="118.3" cy="330.9" r="9.1" fill="none" stroke="#f70d0d" stroke-width="4.4"/>
<circle cx="118.3" cy="394.2" r="9.1" fill="none" stroke="#f70d0d" stroke-width="4.4"/>
<circle cx="118.3" cy="457.6" r="9.1" fill="none" stroke="#f70d0d" stroke-width="4.4"/>
<circle cx="237.6" cy="77.6" r="9.1" fill="none" stroke="#f70d0d" stroke-width="4.4"/>
<circle cx="237.6" cy="140.9" r="9.1" fill="none" stroke="#f70d0d" stroke-width="4.4"/>
<circle cx="237.6" cy="204.3" r="9.1" fill="none" stroke="#f70d0d" stroke-width="4.4"/>
<circle cx="237.6" cy="267.6" r="9.1" fill="none" stroke="#f70d0d" stroke-width="4.4"/>
<circle cx="237.6" cy="331.0" r="9.1" fill="none" stroke="#f70d0d" stroke-width="4.4"/>
<circle cx="237.6" cy="394.4" r="9.1" fill="none" stroke="#f70d0d" stroke-width="4.4"/>
<circle cx="237.6" cy="457.7" r="9.1" fill="none" stroke="#f70d0d" stroke-width="4.4"/>
<circle cx="476.9" cy="78.0" r="9.1" fill="none" stroke="#f70d0d" stroke-width="4.4"/>
<circle cx="476.9" cy="141.3" r="9.1" fill="none" stroke="#f70d0d" stroke-width="4.4"/>
<circle cx="476.9" cy="204.7" r="9.1" fill="none" stroke="#f70d0d" stroke-width="4.4"/>
<circle cx="476.9" cy="268.1" r="9.1" fill="none" stroke="#f70d0d" stroke-width="4.4"/>
<circle cx="476.9" cy="331.4" r="9.1" fill="none" stroke="#f70d0d" stroke-width="4.4"/>
<circle cx="476.9" cy="394.8" r="9.1" fill="none" stroke="#f70d0d" stroke-width="4.4"/>
<circle cx="476.9" cy="458.1" r="9.1" fill="none" stroke="#f70d0d" stroke-width="4.4"/>
<circle cx="596" cy="78.0" r="9.1" fill="none" stroke="#f70d0d" stroke-width="4.4"/>
<circle cx="596" cy="141.3" r="9.1" fill="none" stroke="#f70d0d" stroke-width="4.4"/>
<circle cx="596" cy="204.7" r="9.1" fill="none" stroke="#f70d0d" stroke-width="4.4"/>
<circle cx="596" cy="268.1" r="9.1" fill="none" stroke="#f70d0d" stroke-width="4.4"/>
<circle cx="596" cy="331.4" r="9.1" fill="none" stroke="#f70d0d" stroke-width="4.4"/>
<circle cx="596" cy="394.8" r="9.1" fill="none" stroke="#f70d0d" stroke-width="4.4"/>
<circle cx="596" cy="458.1" r="9.1" fill="none" stroke="#f70d0d" stroke-width="4.4"/>
<circle cx="118.3" cy="30.2" r="4.8" fill="#f7941d"/>
<circle cx="119" cy="116.8" r="10.3" fill="none" stroke="#0b2fd6" stroke-width="2.6" stroke-dasharray="2.50 2.48"/>
<circle cx="119" cy="244.7" r="10.3" fill="none" stroke="#0b2fd6" stroke-width="2.6" stroke-dasharray="2.50 2.48"/>
<circle cx="119" cy="371.9" r="10.3" fill="none" stroke="#0b2fd6" stroke-width="2.6" stroke-dasharray="2.50 2.48"/>
<circle cx="118.3" cy="159.5" r="7.4" fill="#000" filter="url(#bl0)"/>
<circle cx="118.3" cy="159.5" r="8.1" fill="none" stroke="#3d2b9e" stroke-width="4.4"/>
<circle cx="118.3" cy="159.5" r="8.1" fill="none" stroke="#3ea4de" stroke-width="2.4"/>
<circle cx="118.3" cy="159.5" r="11.2" fill="none" stroke="#13b83a" stroke-width="2.4"/>
<circle cx="118.3" cy="159.5" r="5.0" fill="#f7941d"/>
<circle cx="118.3" cy="286.4" r="7.4" fill="#000" filter="url(#bl0)"/>
<circle cx="118.3" cy="286.4" r="9.9" fill="none" stroke="#13b83a" stroke-width="4.4"/>
<circle cx="118.3" cy="285.6" r="5.0" fill="#f7941d"/>
<circle cx="118.3" cy="414.6" r="7.4" fill="#000" filter="url(#bl0)"/>
<circle cx="118.3" cy="414.6" r="9.9" fill="none" stroke="#13b83a" stroke-width="4.4"/>
<circle cx="118.3" cy="414.2" r="5.0" fill="#f7941d"/>
<circle cx="78.7" cy="300.8" r="8" fill="none" stroke="#6e1f9e" stroke-width="4.3"/>
<circle cx="158.3" cy="400.3" r="4.8" fill="#000" filter="url(#bl0)"/>
<circle cx="158.3" cy="400.5" r="8" fill="none" stroke="#6e1f9e" stroke-width="4.3"/>
<circle cx="130.8" cy="367.9" r="9.2" fill="none" stroke="#1aa5c6" stroke-width="2"/>
<circle cx="238.3" cy="116.2" r="5.5" fill="#000" filter="url(#bl0)"/>
<circle cx="238.3" cy="116.2" r="8" fill="none" stroke="#6e1f9e" stroke-width="4.3"/>
<circle cx="238.3" cy="116.2" r="11.2" fill="none" stroke="#13b83a" stroke-width="2.4"/>
<circle cx="238.3" cy="114.2" r="4.5" fill="#f7941d"/>
<circle cx="238.8" cy="160.8" r="10.3" fill="none" stroke="#0b2fd6" stroke-width="2.6" stroke-dasharray="2.50 2.48"/>
<circle cx="264.2" cy="150.9" r="9.2" fill="none" stroke="#1aa5c6" stroke-width="2"/>
<circle cx="238.3" cy="244.5" r="7.4" fill="#000" filter="url(#bl0)"/>
<circle cx="238.3" cy="244.5" r="9.9" fill="none" stroke="#13b83a" stroke-width="4.4"/>
<circle cx="238.3" cy="243.5" r="5.0" fill="#f7941d"/>
<circle cx="198.2" cy="258.7" r="8.1" fill="none" stroke="#3d2b9e" stroke-width="4.4"/>
<circle cx="198.2" cy="258.7" r="8.1" fill="none" stroke="#3ea4de" stroke-width="2.4"/>
<circle cx="237.8" cy="287.8" r="10.3" fill="none" stroke="#0b2fd6" stroke-width="2.6" stroke-dasharray="2.50 2.48"/>
<circle cx="237.8" cy="372.3" r="6.8" fill="#000" filter="url(#bl0)"/>
<circle cx="237.8" cy="372.3" r="9.9" fill="none" stroke="#13b83a" stroke-width="4.4"/>
<circle cx="237.8" cy="415.2" r="6.5" fill="#000" filter="url(#bl0)"/>
<circle cx="237.8" cy="415.5" r="10.3" fill="none" stroke="#0b2fd6" stroke-width="2.6" stroke-dasharray="2.50 2.48"/>
<circle cx="210" cy="466.5" r="9.2" fill="none" stroke="#1aa5c6" stroke-width="2"/>
<circle cx="316" cy="216.8" r="8" fill="none" stroke="#6e1f9e" stroke-width="4.3"/>
<circle cx="343.5" cy="250.5" r="9.2" fill="none" stroke="#1aa5c6" stroke-width="2"/>
<circle cx="356.9" cy="204.9" r="9.1" fill="#fff" stroke="#f70d0d" stroke-width="4.4"/>
<circle cx="356.9" cy="202.7" r="10.3" fill="none" stroke="#1cae3e" stroke-width="4"/>
<circle cx="356.9" cy="202.7" r="10.3" fill="none" stroke="#0b2fd6" stroke-width="2.6" stroke-dasharray="2.50 2.48"/>
<circle cx="357.2" cy="201.9" r="5.2" fill="#f7941d"/>
<circle cx="356.6" cy="329.4" r="7.4" fill="#000" stroke="#b01212" stroke-width="2.6"/>
<circle cx="356.6" cy="331.2" r="6.8" fill="#000" filter="url(#bl0)"/>
<circle cx="356.6" cy="330.1" r="10.3" fill="none" stroke="#1cae3e" stroke-width="4"/>
<circle cx="356.6" cy="330.1" r="10.3" fill="none" stroke="#0b2fd6" stroke-width="2.6" stroke-dasharray="2.50 2.48"/>
<circle cx="356.9" cy="329.6" r="5" fill="#f7941d"/>
<circle cx="276.5" cy="358.6" r="5.8" fill="#000" filter="url(#bl0)"/>
<circle cx="276.5" cy="358.6" r="8.1" fill="none" stroke="#3d2b9e" stroke-width="4.4"/>
<circle cx="276.5" cy="358.6" r="8.1" fill="none" stroke="#3ea4de" stroke-width="2.4"/>
<circle cx="395.9" cy="316.5" r="8" fill="none" stroke="#6e1f9e" stroke-width="4.3"/>
<circle cx="422.4" cy="349.6" r="9.2" fill="none" stroke="#1aa5c6" stroke-width="2"/>
<circle cx="356.3" cy="458.3" r="10.5" fill="none" stroke="#1f9a50" stroke-width="3.4"/>
<circle cx="356.3" cy="458.3" r="10.5" fill="none" stroke="#0b2fd6" stroke-width="2.6" stroke-dasharray="2.50 2.57"/>
<circle cx="356.3" cy="458.3" r="7.2" fill="#fff" stroke="#3a8ee0" stroke-width="2.6"/>
<circle cx="356.3" cy="458.3" r="5.9" fill="none" stroke="#1a3fd0" stroke-width="0.8"/>
<circle cx="356.3" cy="457.8" r="5.3" fill="#f7941d"/>
<circle cx="477.2" cy="31.5" r="4.8" fill="#f7941d"/>
<circle cx="476.7" cy="118.8" r="10.3" fill="none" stroke="#0b2fd6" stroke-width="2.6" stroke-dasharray="2.50 2.48"/>
<circle cx="476.3" cy="246.2" r="10.3" fill="none" stroke="#0b2fd6" stroke-width="2.6" stroke-dasharray="2.50 2.48"/>
<circle cx="475.3" cy="373.2" r="10.3" fill="none" stroke="#0b2fd6" stroke-width="2.6" stroke-dasharray="2.50 2.48"/>
<circle cx="476.7" cy="161.4" r="7.4" fill="#000" filter="url(#bl0)"/>
<circle cx="476.7" cy="161.4" r="9.9" fill="none" stroke="#13b83a" stroke-width="4.4"/>
<circle cx="477" cy="159.9" r="5.0" fill="#f7941d"/>
<circle cx="476.3" cy="287.6" r="7.4" fill="#000" filter="url(#bl0)"/>
<circle cx="476.3" cy="287.6" r="9.9" fill="none" stroke="#13b83a" stroke-width="4.4"/>
<circle cx="476.8" cy="287" r="5.0" fill="#f7941d"/>
<circle cx="475.5" cy="415.6" r="5.5" fill="#000" filter="url(#bl0)"/>
<circle cx="475.5" cy="415.6" r="8" fill="none" stroke="#6e1f9e" stroke-width="4.3"/>
<circle cx="475.5" cy="415.6" r="11.2" fill="none" stroke="#13b83a" stroke-width="2.4"/>
<circle cx="476.8" cy="415.5" r="4.4" fill="#f7941d"/>
<circle cx="410.4" cy="142.2" r="9.2" fill="none" stroke="#1aa5c6" stroke-width="2"/>
<circle cx="436" cy="175" r="8" fill="none" stroke="#6e1f9e" stroke-width="4.3"/>
<circle cx="489.5" cy="240.8" r="9.2" fill="none" stroke="#1aa5c6" stroke-width="2"/>
<circle cx="515.3" cy="274.3" r="8" fill="none" stroke="#6e1f9e" stroke-width="4.3"/>
<circle cx="501.2" cy="449" r="9.2" fill="none" stroke="#1aa5c6" stroke-width="2"/>
<circle cx="596" cy="118.6" r="7.4" fill="#000" filter="url(#bl0)"/>
<circle cx="596" cy="118.4" r="9.9" fill="none" stroke="#13b83a" stroke-width="4.4"/>
<circle cx="597.6" cy="116.7" r="5.0" fill="#f7941d"/>
<circle cx="596" cy="161.7" r="10.3" fill="none" stroke="#0b2fd6" stroke-width="2.6" stroke-dasharray="2.50 2.48"/>
<circle cx="596" cy="246.2" r="7.4" fill="#000" filter="url(#bl0)"/>
<circle cx="596" cy="246.2" r="9.9" fill="none" stroke="#13b83a" stroke-width="4.4"/>
<circle cx="597.2" cy="245" r="5.0" fill="#f7941d"/>
<circle cx="596" cy="289.5" r="10.3" fill="none" stroke="#0b2fd6" stroke-width="2.6" stroke-dasharray="2.50 2.48"/>
<circle cx="595" cy="373.2" r="8" fill="none" stroke="#6e1f9e" stroke-width="4.3"/>
<circle cx="595" cy="373.2" r="11.2" fill="none" stroke="#13b83a" stroke-width="2.4"/>
<circle cx="596.5" cy="371.8" r="5.0" fill="#f7941d"/>
<circle cx="595.3" cy="416" r="10.3" fill="none" stroke="#0b2fd6" stroke-width="2.6" stroke-dasharray="2.50 2.48"/>
<circle cx="556" cy="133.6" r="8.1" fill="none" stroke="#3d2b9e" stroke-width="4.4"/>
<circle cx="556" cy="133.6" r="8.1" fill="none" stroke="#3ea4de" stroke-width="2.4"/>
<circle cx="635" cy="232.8" r="8.1" fill="none" stroke="#3d2b9e" stroke-width="4.4"/>
<circle cx="635" cy="232.8" r="8.1" fill="none" stroke="#3ea4de" stroke-width="2.4"/>
<circle cx="568.3" cy="340.4" r="9.2" fill="none" stroke="#1aa5c6" stroke-width="2"/>
<rect x="170.5" y="15" width="111.5" height="88.5" fill="#fff" stroke="#000" stroke-width="1.8"/>
<circle cx="189.3" cy="29.4" r="5.6" fill="#f7941d"/>
<circle cx="189.3" cy="53.4" r="10.3" fill="none" stroke="#13b83a" stroke-width="3.8"/>
<circle cx="189.3" cy="81.3" r="9.6" fill="none" stroke="#f70d0d" stroke-width="4"/>
<text x="212" y="36.8" font-family='"Liberation Sans", sans-serif' font-weight="bold" font-size="19.5" fill="#000">Si</text>
<text x="212" y="60.5" font-family='"Liberation Sans", sans-serif' font-weight="bold" font-size="20" fill="#000">GaP<tspan font-size="14" dy="5">ZB</tspan></text>
<text x="212" y="85.5" font-family='"Liberation Sans", sans-serif' font-weight="bold" font-size="20" fill="#000">GaP<tspan font-size="14" dy="5">WZ</tspan></text>
<rect x="302" y="14.5" width="148" height="103" fill="#fff" stroke="#000" stroke-width="1.8"/>
<text x="307.5" y="33.8" font-family='"Liberation Sans", sans-serif' font-weight="bold" font-size="20.2" fill="#000">GaP<tspan font-size="14" dy="5">ZB</tspan><tspan dy="-5"> twins:</tspan></text>
<circle cx="320.2" cy="51.4" r="10.8" fill="none" stroke="#0b2fd6" stroke-width="4.0" stroke-dasharray="4.00 3.54"/>
<circle cx="320" cy="78" r="7.6" fill="none" stroke="#6e1f9e" stroke-width="5"/>
<circle cx="320.2" cy="103.4" r="8.4" fill="none" stroke="#1aa5c6" stroke-width="2.2"/>
<text x="336" y="59" font-family='"Liberation Sans", sans-serif' font-weight="bold" font-size="20" fill="#000">[111]</text>
<text x="336" y="84" font-family='"Liberation Sans", sans-serif' font-weight="bold" font-size="20" fill="#000">[111]</text>
<rect x="364.5" y="67" width="9" height="1.8" fill="#000"/>
<text x="336" y="110" font-family='"Liberation Sans", sans-serif' font-weight="bold" font-size="20" fill="#000">[111]<tspan font-size="13.6" dy="2.5">2nd order</tspan></text>
<rect x="343" y="92.3" width="9" height="1.8" fill="#000"/><rect x="353.8" y="92.3" width="9" height="1.8" fill="#000"/><rect x="364.5" y="92.3" width="9" height="1.8" fill="#000"/>
<line x1="42.3" y1="466" x2="42.3" y2="249" stroke="#000" stroke-width="1.8"/>
<path d="M42.3,239.5 L38.8,250 L45.8,250 Z" fill="#000"/>
<line x1="50" y1="466" x2="260" y2="466" stroke="#000" stroke-width="1.8"/>
<path d="M270.2,466 L259.5,462.3 L259.5,469.7 Z" fill="#000"/>
<circle cx="42.4" cy="466" r="7" fill="#fff" stroke="#000" stroke-width="2"/><circle cx="42.4" cy="466" r="2.1" fill="#000"/>
<text x="27.3" y="230.3" font-family='"Liberation Serif", serif' font-weight="bold" font-style="italic" font-size="21.5" fill="#000">Q</text>
<path d="M43.5,235 L51.8,235 M48.6,235 L49.8,228.3" stroke="#333" stroke-width="1"/>
<text x="275.6" y="476" font-family='"Liberation Serif", serif' font-weight="bold" font-style="italic" font-size="21.5" fill="#000">Q</text>
<path d="M295.3,471.5 L295.3,481 M298.1,471.5 L298.1,481" stroke="#666" stroke-width="1"/>
<text transform="translate(33.6,381) rotate(-90)" font-family='"Liberation Sans", sans-serif' font-weight="bold" font-size="20" fill="#f01414">[0001]<tspan font-size="14" dx="3" dy="4.2">WZ-GaP</tspan></text>
<text transform="translate(61,381) rotate(-90)" font-family='"Liberation Sans", sans-serif' font-weight="bold" font-size="19" fill="#000">[1 1 1]<tspan font-size="14" dy="3.5">Si, ZB-GaP</tspan></text>
<text x="35" y="498" font-family='"Liberation Sans", sans-serif' font-weight="bold" font-size="19" fill="#000">[1 1 0]<tspan font-size="14" dy="3">Si, ZB-GaP</tspan></text>
<rect x="58.5" y="477.8" width="9.5" height="1.8" fill="#000"/>
<text x="35" y="521" font-family='"Liberation Sans", sans-serif' font-weight="bold" font-size="19" fill="#f01414">[1120]<tspan font-size="14" dx="5" dy="3.5">WZ-GaP</tspan></text>
<rect x="65" y="502.3" width="9.5" height="1.8" fill="#f01414"/>
<text x="187.5" y="498" font-family='"Liberation Sans", sans-serif' font-weight="bold" font-size="19" fill="#000">[1 1 2]<tspan font-size="14" dy="3">Si, ZB-GaP</tspan></text>
<rect x="227" y="477.8" width="9.5" height="1.8" fill="#000"/>
<text x="187.5" y="521.5" font-family='"Liberation Sans", sans-serif' font-weight="bold" font-size="19" fill="#f01414">[1100]<tspan font-size="14" dx="5" dy="3.5">WZ-GaP</tspan></text>
<rect x="194" y="502.3" width="9.5" height="1.8" fill="#f01414"/>
<text x="251.3" y="257.8" font-family='"Liberation Sans", sans-serif' font-weight="bold" font-size="20.5" fill="#f7941d">113</text>
<text x="127.3" y="311.5" font-family='"Liberation Sans", sans-serif' font-weight="bold" font-size="20.5" fill="#d2691e">004</text>
<text x="489" y="303.3" font-family='"Liberation Sans", sans-serif' font-weight="bold" font-size="20.5" fill="#19b83c">220</text>
<text x="489.2" y="354.8" font-family='"Liberation Sans", sans-serif' font-weight="bold" font-size="20.5" fill="#f01414">1102</text>
<rect x="490.3" y="334.6" width="11.7" height="1.8" fill="#f01414"/>
<text x="489.2" y="399.9" font-family='"Liberation Sans", sans-serif' font-weight="bold" font-size="20.5" fill="#f01414">1101</text>
<rect x="491" y="379.6" width="11.7" height="1.8" fill="#f01414"/>
<text x="489.2" y="425" font-family='"Liberation Sans", sans-serif' font-weight="bold" font-size="20.5" fill="#19b83c">111</text>
<rect x="511.9" y="404.4" width="11.2" height="1.8" fill="#19b83c"/>
<text x="367.3" y="344.9" font-family='"Liberation Sans", sans-serif' font-weight="bold" font-size="20.5" fill="#19b83c">111</text>
<text x="367.8" y="367" font-family='"Liberation Sans", sans-serif' font-weight="bold" font-size="20.5" fill="#f01414">0002</text>
<text x="288.5" y="381.8" font-family='"Liberation Sans", sans-serif' font-weight="bold" font-size="18.5" fill="#6e1f9e">111</text>
<path d="M289,362.5 h7 M299,362.5 h7 M309,362.5 h7" stroke="#6e1f9e" stroke-width="1.8"/>
<text x="247.8" y="387.6" font-family='"Liberation Sans", sans-serif' font-weight="bold" font-size="20.5" fill="#19b83c">002</text>
<text x="365.2" y="479" font-family='"Liberation Sans", sans-serif' font-weight="bold" font-size="20.5" fill="#000">000</text>
<linearGradient id="gvs" gradientUnits="userSpaceOnUse" x1="0" y1="441" x2="0" y2="384"><stop offset="0" stop-color="#1db33a"/><stop offset="0.55" stop-color="#1db33a"/><stop offset="0.8" stop-color="#1a8a8c"/><stop offset="1" stop-color="#1a52d6"/></linearGradient>
<line x1="362" y1="440.8" x2="362" y2="383" stroke="url(#gvs)" stroke-width="3.8"/>
<path d="M362,365.6 L356.3,385 L367.7,385 Z" fill="#1a4fd8"/>
<path d="M370.4,392 C375.5,392.6 378.2,394.8 376,397 C373.5,399.5 367,400.3 362,400.2" fill="none" stroke="#1db33a" stroke-width="2"/>
<path d="M362,400.2 C357,400 352.5,399.2 351.5,397.6" fill="none" stroke="#1a55d8" stroke-width="2"/>
<path d="M346.9,395.2 L356.3,392 L354.3,397.6 Z" fill="#1a4fd8"/>
<linearGradient id="gls" gradientUnits="userSpaceOnUse" x1="338" y1="446.2" x2="305.7" y2="404.9"><stop offset="0" stop-color="#6a0fa0"/><stop offset="0.45" stop-color="#5a3aaa"/><stop offset="1" stop-color="#1aa4ca"/></linearGradient>
<line x1="338" y1="446.2" x2="305" y2="404" stroke="url(#gls)" stroke-width="3.3"/>
<path d="M295.1,390.1 L310.3,402 L301.6,407.7 Z" fill="#1aa8cc"/>
<path d="M323.5,409.4 C325.5,412 325.5,416 322.5,421 C319.5,425.5 314.5,428.5 309.5,428.4" fill="none" stroke="#8a1fb8" stroke-width="2"/>
<path d="M309.4,416.4 L306.1,428.6 L312.4,425.6 Z" fill="#3a8ad8"/>
<linearGradient id="grs" gradientUnits="userSpaceOnUse" x1="384.5" y1="451.6" x2="431" y2="434"><stop offset="0" stop-color="#1db33a"/><stop offset="0.62" stop-color="#1db33a"/><stop offset="1" stop-color="#6a10a0"/></linearGradient>
<line x1="384.5" y1="451.6" x2="432" y2="433.6" stroke="url(#grs)" stroke-width="3.4"/>
<path d="M448.8,429.2 L429.6,430.7 L433.6,440.3 Z" fill="#6a10a0"/>
<path d="M422.3,445.9 C421.5,450 416,451 412,448.6 C408.5,446.5 407,441 408,436.5" fill="none" stroke="#1db33a" stroke-width="2.2"/>
<path d="M413.8,430.7 L404.8,432.4 L409.9,439.2 Z" fill="#5a1a9a"/>
<line x1="471.6" y1="484.3" x2="462.3" y2="530" stroke="#000" stroke-width="1.8"/>
<path d="M461,538.6 L458.8,526.5 L465.6,527.9 Z" fill="#000"/>
<text x="473" y="518.4" font-family='"Liberation Sans", sans-serif' font-weight="bold" font-style="italic" font-size="26.5" fill="#000">1D cut</text>
<text transform="translate(16.2 53.6) scale(0.86 1)" font-family='"Liberation Sans", sans-serif' font-size="45" fill="#000">a</text>
<text x="40.3" y="52.3" font-family='"Liberation Sans", sans-serif' font-size="46" fill="#000">)</text>
<text transform="translate(17.2 574.8) scale(0.92 1)" font-family='"Liberation Sans", sans-serif' font-size="46" fill="#000">b</text>
<text x="43.5" y="573.2" font-family='"Liberation Sans", sans-serif' font-size="46" fill="#000">)</text>
<line x1="127.8" y1="547.8" x2="127.8" y2="824.6" stroke="#dadada" stroke-width="1" stroke-dasharray="1.5 1.5"/>
<line x1="158.2" y1="547.8" x2="158.2" y2="824.6" stroke="#dadada" stroke-width="1" stroke-dasharray="1.5 1.5"/>
<line x1="188.5" y1="547.8" x2="188.5" y2="824.6" stroke="#b4b4b4" stroke-width="1"/>
<line x1="218.9" y1="547.8" x2="218.9" y2="824.6" stroke="#dadada" stroke-width="1" stroke-dasharray="1.5 1.5"/>
<line x1="249.2" y1="547.8" x2="249.2" y2="824.6" stroke="#dadada" stroke-width="1" stroke-dasharray="1.5 1.5"/>
<line x1="279.5" y1="547.8" x2="279.5" y2="824.6" stroke="#b4b4b4" stroke-width="1"/>
<line x1="309.9" y1="547.8" x2="309.9" y2="824.6" stroke="#dadada" stroke-width="1" stroke-dasharray="1.5 1.5"/>
<line x1="340.2" y1="547.8" x2="340.2" y2="824.6" stroke="#dadada" stroke-width="1" stroke-dasharray="1.5 1.5"/>
<line x1="370.6" y1="547.8" x2="370.6" y2="824.6" stroke="#b4b4b4" stroke-width="1"/>
<line x1="400.9" y1="547.8" x2="400.9" y2="824.6" stroke="#dadada" stroke-width="1" stroke-dasharray="1.5 1.5"/>
<line x1="431.2" y1="547.8" x2="431.2" y2="824.6" stroke="#dadada" stroke-width="1" stroke-dasharray="1.5 1.5"/>
<line x1="461.6" y1="547.8" x2="461.6" y2="824.6" stroke="#b4b4b4" stroke-width="1"/>
<line x1="491.9" y1="547.8" x2="491.9" y2="824.6" stroke="#dadada" stroke-width="1" stroke-dasharray="1.5 1.5"/>
<line x1="522.2" y1="547.8" x2="522.2" y2="824.6" stroke="#dadada" stroke-width="1" stroke-dasharray="1.5 1.5"/>
<line x1="552.6" y1="547.8" x2="552.6" y2="824.6" stroke="#b4b4b4" stroke-width="1"/>
<line x1="582.9" y1="547.8" x2="582.9" y2="824.6" stroke="#dadada" stroke-width="1" stroke-dasharray="1.5 1.5"/>
<line x1="613.3" y1="547.8" x2="613.3" y2="824.6" stroke="#dadada" stroke-width="1" stroke-dasharray="1.5 1.5"/>
<line x1="97.5" y1="547.8" x2="97.5" y2="552.8" stroke="#000" stroke-width="1.4"/>
<line x1="97.5" y1="824.6" x2="97.5" y2="829.6" stroke="#000" stroke-width="1.4"/>
<line x1="127.8" y1="547.8" x2="127.8" y2="551.3" stroke="#000" stroke-width="1.4"/>
<line x1="127.8" y1="824.6" x2="127.8" y2="828.1" stroke="#000" stroke-width="1.4"/>
<line x1="158.2" y1="547.8" x2="158.2" y2="551.3" stroke="#000" stroke-width="1.4"/>
<line x1="158.2" y1="824.6" x2="158.2" y2="828.1" stroke="#000" stroke-width="1.4"/>
<line x1="188.5" y1="547.8" x2="188.5" y2="552.8" stroke="#000" stroke-width="1.4"/>
<line x1="188.5" y1="824.6" x2="188.5" y2="829.6" stroke="#000" stroke-width="1.4"/>
<line x1="218.9" y1="547.8" x2="218.9" y2="551.3" stroke="#000" stroke-width="1.4"/>
<line x1="218.9" y1="824.6" x2="218.9" y2="828.1" stroke="#000" stroke-width="1.4"/>
<line x1="249.2" y1="547.8" x2="249.2" y2="551.3" stroke="#000" stroke-width="1.4"/>
<line x1="249.2" y1="824.6" x2="249.2" y2="828.1" stroke="#000" stroke-width="1.4"/>
<line x1="279.5" y1="547.8" x2="279.5" y2="552.8" stroke="#000" stroke-width="1.4"/>
<line x1="279.5" y1="824.6" x2="279.5" y2="829.6" stroke="#000" stroke-width="1.4"/>
<line x1="309.9" y1="547.8" x2="309.9" y2="551.3" stroke="#000" stroke-width="1.4"/>
<line x1="309.9" y1="824.6" x2="309.9" y2="828.1" stroke="#000" stroke-width="1.4"/>
<line x1="340.2" y1="547.8" x2="340.2" y2="551.3" stroke="#000" stroke-width="1.4"/>
<line x1="340.2" y1="824.6" x2="340.2" y2="828.1" stroke="#000" stroke-width="1.4"/>
<line x1="370.6" y1="547.8" x2="370.6" y2="552.8" stroke="#000" stroke-width="1.4"/>
<line x1="370.6" y1="824.6" x2="370.6" y2="829.6" stroke="#000" stroke-width="1.4"/>
<line x1="400.9" y1="547.8" x2="400.9" y2="551.3" stroke="#000" stroke-width="1.4"/>
<line x1="400.9" y1="824.6" x2="400.9" y2="828.1" stroke="#000" stroke-width="1.4"/>
<line x1="431.2" y1="547.8" x2="431.2" y2="551.3" stroke="#000" stroke-width="1.4"/>
<line x1="431.2" y1="824.6" x2="431.2" y2="828.1" stroke="#000" stroke-width="1.4"/>
<line x1="461.6" y1="547.8" x2="461.6" y2="552.8" stroke="#000" stroke-width="1.4"/>
<line x1="461.6" y1="824.6" x2="461.6" y2="829.6" stroke="#000" stroke-width="1.4"/>
<line x1="491.9" y1="547.8" x2="491.9" y2="551.3" stroke="#000" stroke-width="1.4"/>
<line x1="491.9" y1="824.6" x2="491.9" y2="828.1" stroke="#000" stroke-width="1.4"/>
<line x1="522.2" y1="547.8" x2="522.2" y2="551.3" stroke="#000" stroke-width="1.4"/>
<line x1="522.2" y1="824.6" x2="522.2" y2="828.1" stroke="#000" stroke-width="1.4"/>
<line x1="552.6" y1="547.8" x2="552.6" y2="552.8" stroke="#000" stroke-width="1.4"/>
<line x1="552.6" y1="824.6" x2="552.6" y2="829.6" stroke="#000" stroke-width="1.4"/>
<line x1="582.9" y1="547.8" x2="582.9" y2="551.3" stroke="#000" stroke-width="1.4"/>
<line x1="582.9" y1="824.6" x2="582.9" y2="828.1" stroke="#000" stroke-width="1.4"/>
<line x1="613.3" y1="547.8" x2="613.3" y2="551.3" stroke="#000" stroke-width="1.4"/>
<line x1="613.3" y1="824.6" x2="613.3" y2="828.1" stroke="#000" stroke-width="1.4"/>
<line x1="643.6" y1="547.8" x2="643.6" y2="552.8" stroke="#000" stroke-width="1.4"/>
<line x1="643.6" y1="824.6" x2="643.6" y2="829.6" stroke="#000" stroke-width="1.4"/>
<line x1="91.0" y1="551.6" x2="97.5" y2="551.6" stroke="#000" stroke-width="1.6"/>
<line x1="94.2" y1="589.6" x2="97.5" y2="589.6" stroke="#000" stroke-width="1.3"/>
<line x1="94.2" y1="580.0" x2="97.5" y2="580.0" stroke="#000" stroke-width="1.3"/>
<line x1="94.2" y1="573.2" x2="97.5" y2="573.2" stroke="#000" stroke-width="1.3"/>
<line x1="94.2" y1="568.0" x2="97.5" y2="568.0" stroke="#000" stroke-width="1.3"/>
<line x1="94.2" y1="563.7" x2="97.5" y2="563.7" stroke="#000" stroke-width="1.3"/>
<line x1="94.2" y1="560.0" x2="97.5" y2="560.0" stroke="#000" stroke-width="1.3"/>
<line x1="94.2" y1="556.9" x2="97.5" y2="556.9" stroke="#000" stroke-width="1.3"/>
<line x1="94.2" y1="554.1" x2="97.5" y2="554.1" stroke="#000" stroke-width="1.3"/>
<line x1="91.0" y1="606.0" x2="97.5" y2="606.0" stroke="#000" stroke-width="1.6"/>
<line x1="94.2" y1="644.4" x2="97.5" y2="644.4" stroke="#000" stroke-width="1.3"/>
<line x1="94.2" y1="634.8" x2="97.5" y2="634.8" stroke="#000" stroke-width="1.3"/>
<line x1="94.2" y1="627.9" x2="97.5" y2="627.9" stroke="#000" stroke-width="1.3"/>
<line x1="94.2" y1="622.6" x2="97.5" y2="622.6" stroke="#000" stroke-width="1.3"/>
<line x1="94.2" y1="618.2" x2="97.5" y2="618.2" stroke="#000" stroke-width="1.3"/>
<line x1="94.2" y1="614.5" x2="97.5" y2="614.5" stroke="#000" stroke-width="1.3"/>
<line x1="94.2" y1="611.3" x2="97.5" y2="611.3" stroke="#000" stroke-width="1.3"/>
<line x1="94.2" y1="608.5" x2="97.5" y2="608.5" stroke="#000" stroke-width="1.3"/>
<line x1="91.0" y1="661.0" x2="97.5" y2="661.0" stroke="#000" stroke-width="1.6"/>
<line x1="94.2" y1="698.5" x2="97.5" y2="698.5" stroke="#000" stroke-width="1.3"/>
<line x1="94.2" y1="689.0" x2="97.5" y2="689.0" stroke="#000" stroke-width="1.3"/>
<line x1="94.2" y1="682.3" x2="97.5" y2="682.3" stroke="#000" stroke-width="1.3"/>
<line x1="94.2" y1="677.1" x2="97.5" y2="677.1" stroke="#000" stroke-width="1.3"/>
<line x1="94.2" y1="672.9" x2="97.5" y2="672.9" stroke="#000" stroke-width="1.3"/>
<line x1="94.2" y1="669.3" x2="97.5" y2="669.3" stroke="#000" stroke-width="1.3"/>
<line x1="94.2" y1="666.2" x2="97.5" y2="666.2" stroke="#000" stroke-width="1.3"/>
<line x1="94.2" y1="663.5" x2="97.5" y2="663.5" stroke="#000" stroke-width="1.3"/>
<line x1="91.0" y1="714.6" x2="97.5" y2="714.6" stroke="#000" stroke-width="1.6"/>
<line x1="94.2" y1="755.8" x2="97.5" y2="755.8" stroke="#000" stroke-width="1.3"/>
<line x1="94.2" y1="745.4" x2="97.5" y2="745.4" stroke="#000" stroke-width="1.3"/>
<line x1="94.2" y1="738.1" x2="97.5" y2="738.1" stroke="#000" stroke-width="1.3"/>
<line x1="94.2" y1="732.4" x2="97.5" y2="732.4" stroke="#000" stroke-width="1.3"/>
<line x1="94.2" y1="727.7" x2="97.5" y2="727.7" stroke="#000" stroke-width="1.3"/>
<line x1="94.2" y1="723.7" x2="97.5" y2="723.7" stroke="#000" stroke-width="1.3"/>
<line x1="94.2" y1="720.3" x2="97.5" y2="720.3" stroke="#000" stroke-width="1.3"/>
<line x1="94.2" y1="717.3" x2="97.5" y2="717.3" stroke="#000" stroke-width="1.3"/>
<line x1="91.0" y1="773.6" x2="97.5" y2="773.6" stroke="#000" stroke-width="1.6"/>
<line x1="94.2" y1="809.2" x2="97.5" y2="809.2" stroke="#000" stroke-width="1.3"/>
<line x1="94.2" y1="800.3" x2="97.5" y2="800.3" stroke="#000" stroke-width="1.3"/>
<line x1="94.2" y1="793.9" x2="97.5" y2="793.9" stroke="#000" stroke-width="1.3"/>
<line x1="94.2" y1="789.0" x2="97.5" y2="789.0" stroke="#000" stroke-width="1.3"/>
<line x1="94.2" y1="784.9" x2="97.5" y2="784.9" stroke="#000" stroke-width="1.3"/>
<line x1="94.2" y1="781.5" x2="97.5" y2="781.5" stroke="#000" stroke-width="1.3"/>
<line x1="94.2" y1="778.5" x2="97.5" y2="778.5" stroke="#000" stroke-width="1.3"/>
<line x1="94.2" y1="775.9" x2="97.5" y2="775.9" stroke="#000" stroke-width="1.3"/>
<line x1="91.0" y1="824.6" x2="97.5" y2="824.6" stroke="#000" stroke-width="1.6"/>
<rect x="97.5" y="547.8" width="546.1" height="276.80000000000007" fill="none" stroke="#000" stroke-width="1.8"/>
<text x="97.5" y="846.3" text-anchor="middle" font-family='"Liberation Sans", sans-serif' font-size="13.8" fill="#222">0.0</text>
<text x="188.5" y="846.3" text-anchor="middle" font-family='"Liberation Sans", sans-serif' font-size="13.8" fill="#222">0.5</text>
<text x="279.5" y="846.3" text-anchor="middle" font-family='"Liberation Sans", sans-serif' font-size="13.8" fill="#222">1.0</text>
<text x="370.6" y="846.3" text-anchor="middle" font-family='"Liberation Sans", sans-serif' font-size="13.8" fill="#222">1.5</text>
<text x="461.6" y="846.3" text-anchor="middle" font-family='"Liberation Sans", sans-serif' font-size="13.8" fill="#222">2.0</text>
<text x="552.6" y="846.3" text-anchor="middle" font-family='"Liberation Sans", sans-serif' font-size="13.8" fill="#222">2.5</text>
<text x="643.6" y="846.3" text-anchor="middle" font-family='"Liberation Sans", sans-serif' font-size="13.8" fill="#222">3.0</text>
<text x="86" y="557.8" text-anchor="end" font-family='"Liberation Serif", serif' font-size="16.5" fill="#222">1</text>
<text x="72.3" y="612.2" text-anchor="end" font-family='"Liberation Serif", serif' font-size="16.5" fill="#222">10</text>
<text x="73.3" y="606.3" font-family='"Liberation Serif", serif' font-size="11.5" fill="#222">−1</text>
<text x="72.3" y="667.2" text-anchor="end" font-family='"Liberation Serif", serif' font-size="16.5" fill="#222">10</text>
<text x="73.3" y="661.3" font-family='"Liberation Serif", serif' font-size="11.5" fill="#222">−2</text>
<text x="72.3" y="720.8" text-anchor="end" font-family='"Liberation Serif", serif' font-size="16.5" fill="#222">10</text>
<text x="73.3" y="714.9" font-family='"Liberation Serif", serif' font-size="11.5" fill="#222">−3</text>
<text x="72.3" y="779.8" text-anchor="end" font-family='"Liberation Serif", serif' font-size="16.5" fill="#222">10</text>
<text x="73.3" y="773.9" font-family='"Liberation Serif", serif' font-size="11.5" fill="#222">−4</text>
<text x="72.3" y="830.8" text-anchor="end" font-family='"Liberation Serif", serif' font-size="16.5" fill="#222">10</text>
<text x="73.3" y="824.9" font-family='"Liberation Serif", serif' font-size="11.5" fill="#222">−5</text>
<text transform="translate(36.5,783) rotate(-90)" font-family='"Liberation Sans", sans-serif' font-size="17" fill="#222">Normalized intensity, a.u.</text>
<text y="879" font-family='"Liberation Sans", sans-serif' font-size="26.5" fill="#222"><tspan x="316.6">|</tspan><tspan x="320.3" font-size="28">Q</tspan><tspan x="347.6">|</tspan><tspan x="352.8">/</tspan><tspan x="356.4">|</tspan><tspan x="360.6" font-size="28">Q</tspan><tspan x="415.7">|</tspan></text>
<text x="339.8" y="884" font-family='"Liberation Sans", sans-serif' font-size="13" fill="#9a9a9a">⊥</text>
<text x="386.3" y="884.3" font-family='"Liberation Serif", serif' font-size="14.5" fill="#777">111</text>
<path d="M148.9,767 C149.47,753.47 151.18,707.88 152.3,685.8 C153.42,663.72 154.68,648.23 155.6,634.5 C156.52,620.77 157.17,610.15 157.8,603.4 C158.43,596.65 158.83,595.07 159.4,594 C159.97,592.93 160.53,593.95 161.2,597 C161.87,600.05 162.48,598.63 163.4,612.3 C164.32,625.97 165.58,663.42 166.7,679 C167.82,694.58 168.97,698.97 170.1,705.8 C171.23,712.63 172.43,716.38 173.5,720 C174.57,723.62 175.42,726.28 176.5,727.5 C177.58,728.72 178.92,727.63 180,727.3 C181.08,726.97 182.05,726.88 183,725.5 C183.95,724.12 184.80,721.42 185.7,719 C186.60,716.58 187.48,710.23 188.4,711 C189.32,711.77 189.98,719.45 191.2,723.6 C192.42,727.75 194.02,732.82 195.7,735.9 C197.38,738.98 199.45,741.92 201.3,742.1 C203.15,742.28 205.13,740.08 206.8,737 C208.47,733.92 209.82,732.13 211.3,723.6 C212.78,715.07 214.50,696.07 215.7,685.8 C216.90,675.53 217.75,666.65 218.5,662 C219.25,657.35 219.65,658.45 220.2,657.9 C220.75,657.35 221.23,655.73 221.8,658.7 C222.37,661.67 222.72,664.85 223.6,675.7 C224.48,686.55 225.92,713.12 227.1,723.8 C228.28,734.48 229.22,734.45 230.7,739.8 C232.18,745.15 234.52,752.33 236,755.9 C237.48,759.47 238.10,759.57 239.6,761.2 C241.10,762.83 243.52,765.35 245,765.7 C246.48,766.05 247.32,763.97 248.5,763.3 C249.68,762.63 251.05,761.60 252.1,761.7 C253.15,761.80 253.82,762.80 254.8,763.9 C255.78,765.00 256.67,768.00 258,768.3 C259.33,768.60 261.17,765.75 262.8,765.7 C264.43,765.65 266.32,768.45 267.8,768 C269.28,767.55 270.45,766.50 271.7,763 C272.95,759.50 274.02,752.50 275.3,747 C276.58,741.50 278.07,730.90 279.4,730 C280.73,729.10 281.92,736.70 283.3,741.6 C284.68,746.50 286.37,755.90 287.7,759.4 C289.03,762.90 290.10,762.30 291.3,762.6 C292.50,762.90 294.02,761.20 294.9,761.2 C295.78,761.20 296.02,763.05 296.6,762.6 C297.18,762.15 296.32,760.37 298.4,758.5 C300.48,756.63 306.72,753.62 309.1,751.4 C311.48,749.18 311.58,747.10 312.7,745.2 C313.82,743.30 314.58,741.63 315.8,740 C317.02,738.37 318.80,737.08 320,735.4 C321.20,733.72 321.53,734.47 323,729.9 C324.47,725.33 327.10,720.32 328.8,708 C330.50,695.68 331.75,676.75 333.2,656 C334.65,635.25 336.30,600.17 337.5,583.5 C338.70,566.83 339.43,561.22 340.4,556 C341.37,550.78 342.33,551.97 343.3,552.2 C344.27,552.43 344.98,549.77 346.2,557.4 C347.42,565.03 349.15,577.73 350.6,598 C352.05,618.27 353.70,660.17 354.9,679 C356.10,697.83 356.45,704.22 357.8,711 C359.15,717.78 361.55,719.70 363,719.7 C364.45,719.70 365.43,713.65 366.5,711 C367.57,708.35 368.18,703.30 369.4,703.8 C370.62,704.30 372.10,709.65 373.8,714 C375.50,718.35 377.92,727.25 379.6,729.9 C381.28,732.55 382.85,729.57 383.9,729.9 C384.95,730.23 384.93,733.12 385.9,731.9 C386.87,730.68 388.58,725.12 389.7,722.6 C390.82,720.08 391.38,724.07 392.6,716.8 C393.82,709.53 395.77,688.47 397,679 C398.23,669.53 399.03,664.33 400,660 C400.97,655.67 401.75,653.02 402.8,653 C403.85,652.98 405.27,656.05 406.3,659.9 C407.33,663.75 407.95,667.98 409,676.1 C410.05,684.22 411.40,698.37 412.6,708.6 C413.80,718.83 414.98,729.68 416.2,737.5 C417.42,745.32 418.68,751.45 419.9,755.5 C421.12,759.55 422.30,760.35 423.5,761.8 C424.70,763.25 425.90,762.83 427.1,764.2 C428.30,765.57 429.20,768.88 430.7,770 C432.20,771.12 434.75,770.97 436.1,770.9 C437.45,770.83 437.60,769.45 438.8,769.6 C440.00,769.75 441.95,771.07 443.3,771.8 C444.65,772.53 445.55,773.85 446.9,774 C448.25,774.15 449.58,773.62 451.4,772.7 C453.22,771.78 455.98,769.87 457.8,768.5 C459.62,767.13 461.10,764.55 462.3,764.5 C463.50,764.45 463.95,766.68 465,768.2 C466.05,769.72 467.40,772.95 468.6,773.6 C469.80,774.25 471.00,772.17 472.2,772.1 C473.40,772.03 474.30,773.40 475.8,773.2 C477.30,773.00 479.40,771.73 481.2,770.9 C483.00,770.07 484.93,769.32 486.6,768.2 C488.27,767.08 489.98,765.12 491.2,764.2 C492.42,763.28 492.70,764.15 493.9,762.7 C495.10,761.25 496.75,757.60 498.4,755.5 C500.05,753.40 502.15,752.50 503.8,750.1 C505.45,747.70 507.02,746.28 508.3,741.1 C509.58,735.92 510.47,729.18 511.5,719 C512.53,708.82 513.50,693.17 514.5,680 C515.50,666.83 516.58,652.50 517.5,640 C518.42,627.50 519.17,615.00 520,605 C520.83,595.00 521.58,585.05 522.5,580 C523.42,574.95 524.47,575.13 525.5,574.7 C526.53,574.27 527.50,574.07 528.7,577.4 C529.90,580.73 531.37,584.23 532.7,594.7 C534.03,605.17 535.37,623.72 536.7,640.2 C538.03,656.68 539.37,677.35 540.7,693.6 C542.03,709.85 543.58,730.58 544.7,737.7 C545.82,744.82 546.28,737.87 547.4,736.3 C548.52,734.73 550.07,728.52 551.4,728.3 C552.73,728.08 554.07,732.55 555.4,735 C556.73,737.45 558.07,740.33 559.4,743 C560.73,745.67 561.83,750.55 563.4,751 C564.97,751.45 567.02,747.25 568.8,745.7 C570.58,744.15 572.55,747.27 574.1,741.7 C575.65,736.13 576.77,721.65 578.1,712.3 C579.43,702.95 580.62,691.52 582.1,685.6 C583.58,679.68 585.67,677.70 587,676.8 C588.33,675.90 588.68,675.62 590.1,680.2 C591.52,684.78 593.72,694.05 595.5,704.3 C597.28,714.55 599.02,732.58 600.8,741.7 C602.58,750.82 604.18,755.00 606.2,759 C608.22,763.00 610.68,763.68 612.9,765.7 C615.12,767.72 617.05,769.98 619.5,771.1 C621.95,772.22 625.37,771.83 627.6,772.4 C629.83,772.97 631.13,774.58 632.9,774.5 C634.67,774.42 636.42,772.47 638.2,771.9 C639.98,771.33 642.70,771.23 643.6,771.1" fill="none" stroke="#121a6c" stroke-width="2.2" stroke-linejoin="round" stroke-linecap="round"/>
<text x="176" y="603.6" font-family='"Liberation Sans", sans-serif' font-weight="bold" font-size="16" fill="#19b83c">111<tspan font-size="11.5" dx="1" dy="3.5" fill="#19b83c">ZB-GaP</tspan><tspan font-size="11.5" fill="#333"> / </tspan><tspan font-size="11.5" fill="#f7941d">Si</tspan></text>
<rect x="196" y="584" width="5" height="1.6" fill="#19b83c"/>
<text x="361.5" y="602" font-family='"Liberation Sans", sans-serif' font-weight="bold" font-size="16" fill="#19b83c">220<tspan font-size="11.5" dx="3.5" dy="3.5" fill="#19b83c">ZB-GaP</tspan><tspan font-size="11.5" fill="#333"> / </tspan><tspan font-size="11.5" fill="#f7941d">Si</tspan></text>
<text x="538.5" y="602" font-family='"Liberation Sans", sans-serif' font-weight="bold" font-size="16" fill="#19b83c">331<tspan font-size="11.5" dx="3.5" dy="3.5" fill="#19b83c">ZB-GaP</tspan><tspan font-size="11.5" fill="#333"> / </tspan><tspan font-size="11.5" fill="#f7941d">Si</tspan></text>
<text x="231.5" y="672.6" font-family='"Liberation Sans", sans-serif' font-weight="bold" font-size="16" fill="#0b2dbf">002<tspan font-size="11.5" dx="1" dy="3.5" fill="#0b2dbf">ZB-twin</tspan></text>
<text x="423.5" y="672.6" font-family='"Liberation Sans", sans-serif' font-weight="bold" font-size="16" fill="#0b2dbf">113<tspan font-size="11.5" dx="1" dy="3.5" fill="#0b2dbf">twin</tspan></text>
<text x="581" y="672.6" font-family='"Liberation Sans", sans-serif' font-weight="bold" font-size="16" fill="#0b2dbf">224<tspan font-size="11.5" dx="1" dy="3.5" fill="#0b2dbf">twin</tspan></text>
<text x="166.5" y="797.2" font-family='"Liberation Sans", sans-serif' font-weight="bold" font-size="16.5" fill="#f01414">1101<tspan font-size="12" dx="1" dy="3.5" fill="#f01414">WZ</tspan></text>
<rect x="169.0" y="778" width="5" height="1.8" fill="#f01414"/>
<text x="259" y="797.2" font-family='"Liberation Sans", sans-serif' font-weight="bold" font-size="16.5" fill="#f01414">1102<tspan font-size="12" dx="1" dy="3.5" fill="#f01414">WZ</tspan></text>
<rect x="261.5" y="778" width="5" height="1.8" fill="#f01414"/>
<text x="346.5" y="797.2" font-family='"Liberation Sans", sans-serif' font-weight="bold" font-size="16.5" fill="#f01414">1103<tspan font-size="12" dx="1" dy="3.5" fill="#f01414">WZ</tspan></text>
<rect x="349.0" y="778" width="5" height="1.8" fill="#f01414"/>
<text x="446.5" y="797.2" font-family='"Liberation Sans", sans-serif' font-weight="bold" font-size="16.5" fill="#f01414">1104<tspan font-size="12" dx="1" dy="3.5" fill="#f01414">WZ</tspan></text>
<rect x="449.0" y="778" width="5" height="1.8" fill="#f01414"/>
<text x="532.5" y="797.2" font-family='"Liberation Sans", sans-serif' font-weight="bold" font-size="16.5" fill="#f01414">1105<tspan font-size="12" dx="1" dy="3.5" fill="#f01414">WZ</tspan></text>
<rect x="535.0" y="778" width="5" height="1.8" fill="#f01414"/>
</svg></body></html>
